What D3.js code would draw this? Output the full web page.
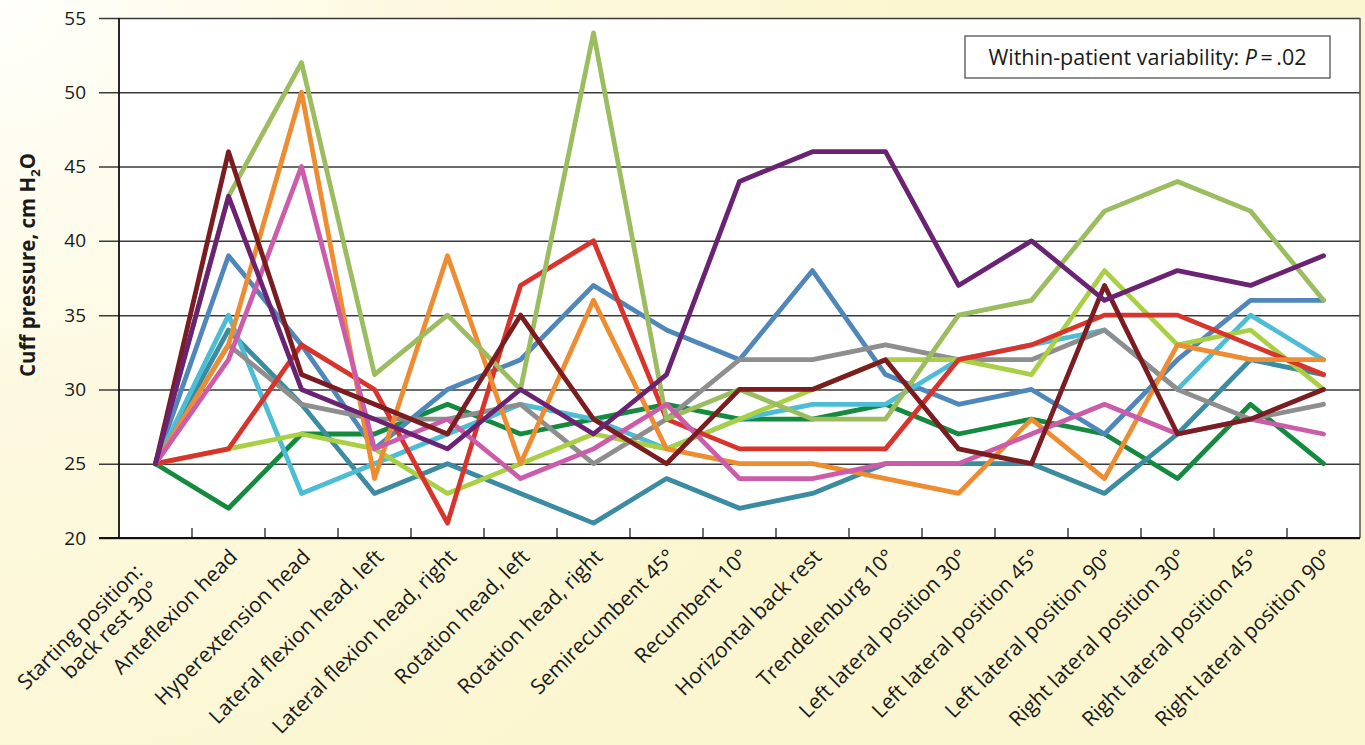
<!DOCTYPE html>
<html>
<head>
<meta charset="utf-8">
<script src="https://cdn.jsdelivr.net/npm/d3@7"></script>
<style>
  html, body { margin: 0; padding: 0; }
  body { width: 1365px; height: 745px; overflow: hidden; }
  svg { display: block; }
  text { font-family: "Open Sans", "Noto Sans", sans-serif; fill: #1a1a1a; }
</style>
</head>
<body>
<svg id="chart" width="1365" height="745"></svg>
<script>
const categories = [
  ["Starting position:", "back rest 30°"],
  ["Anteflexion head"],
  ["Hyperextension head"],
  ["Lateral flexion head, left"],
  ["Lateral flexion head, right"],
  ["Rotation head, left"],
  ["Rotation head, right"],
  ["Semirecumbent 45°"],
  ["Recumbent 10°"],
  ["Horizontal back rest"],
  ["Trendelenburg 10°"],
  ["Left lateral position 30°"],
  ["Left lateral position 45°"],
  ["Left lateral position 90°"],
  ["Right lateral position 30°"],
  ["Right lateral position 45°"],
  ["Right lateral position 90°"]
];
const yTicks = [20, 25, 30, 35, 40, 45, 50, 55];

const darkGreen = [25,22,27,27,29,27,28,29,28,28,29,27,28,27,24,29,25];
const teal      = [25,34,29,23,25,23,21,24,22,23,25,25,25,23,27,32,31];
const steelBlue = [25,39,33,26,30,32,37,34,32,38,31,29,30,27,32,36,36];
const cyan      = [25,35,23,25,27,29,28,26,28,29,29,32,33,34,30,35,32];
const gray      = [25,33,29,28,28,29,25,28,32,32,33,32,32,34,30,28,29];
const lime      = [25,26,27,26,23,25,27,26,28,30,32,32,31,38,33,34,30];
const red       = [25,26,33,30,21,37,40,28,26,26,26,32,33,35,35,33,31];
const orange    = [25,33,50,24,39,25,36,26,25,25,24,23,28,24,33,32,32];
const sage      = [25,43,52,31,35,30,54,28,30,28,28,35,36,42,44,42,36];
const pink      = [25,32,45,26,28,24,26,29,24,24,25,25,27,29,27,28,27];
const maroon    = [25,46,31,29,27,35,28,25,30,30,32,26,25,37,27,28,30];
const purple    = [25,43,30,28,26,30,27,31,44,46,46,37,40,36,38,37,39];

const series = [
  {values: darkGreen, color: "#138a3e"},
  {values: teal,      color: "#3b8ca0"},
  {values: steelBlue, color: "#5087bb"},
  {values: cyan,      color: "#4dbdd6"},
  {values: gray,      color: "#8e8e8e"},
  {values: lime,      color: "#a9d044"},
  {values: red,       color: "#d8342c"},
  {values: orange,    color: "#ee8c32"},
  {values: sage,      color: "#9cbd5f"},
  {values: pink,      color: "#cb5ca9"},
  {values: maroon,    color: "#7a1c20"},
  {values: purple,    color: "#6a2373"}
];

const W = 1365, H = 745;
const m = {left: 119, right: 1360, top: 18, bottom: 538};
const svg = d3.select("#chart");

// background
const defs = svg.append("defs");
const grad = defs.append("radialGradient").attr("id", "bg")
  .attr("gradientUnits", "userSpaceOnUse")
  .attr("cx", 0).attr("cy", 0).attr("r", 900);
grad.append("stop").attr("offset", "0%").attr("stop-color", "#fffffb");
grad.append("stop").attr("offset", "45%").attr("stop-color", "#fdf9e0");
grad.append("stop").attr("offset", "100%").attr("stop-color", "#fbf6cf");
svg.append("rect").attr("width", W).attr("height", H).attr("fill", "url(#bg)");

const x = d3.scaleBand().domain(d3.range(categories.length)).range([m.left, m.right]).padding(0);
const y = d3.scaleLinear().domain([20, 55]).range([m.bottom, m.top]);

// plot area
svg.append("rect").attr("x", m.left).attr("y", m.top)
  .attr("width", m.right - m.left).attr("height", m.bottom - m.top).attr("fill", "#ffffff");

// gridlines + y axis
const yg = svg.append("g").attr("transform", `translate(${m.right},0)`).call(
  d3.axisLeft(y).tickValues(yTicks).tickSize(m.right - 99).tickFormat(d3.format("d")).tickPadding(13)
);
yg.select(".domain").remove();
yg.selectAll(".tick line").attr("stroke", "#3a3a3a").attr("stroke-width", 1.5);
yg.selectAll(".tick text").attr("font-size", 19).attr("fill", "#1a1a1a")
  .style("font-family", '"Open Sans", sans-serif');

// right border
svg.append("line").attr("x1", m.right).attr("x2", m.right).attr("y1", m.top).attr("y2", m.bottom)
  .attr("stroke", "#555").attr("stroke-width", 1.5);

// x axis ticks at band boundaries
const xg = svg.append("g").attr("transform", `translate(0,${m.bottom})`);
xg.selectAll("line.t").data(d3.range(1, categories.length)).join("line")
  .attr("x1", d => x(d)).attr("x2", d => x(d)).attr("y1", 0).attr("y2", -10)
  .attr("stroke", "#222").attr("stroke-width", 1.3);
svg.append("line").attr("x1", 99).attr("x2", m.right).attr("y1", m.bottom).attr("y2", m.bottom)
  .attr("stroke", "#111").attr("stroke-width", 1.8);
svg.append("line").attr("x1", m.left).attr("x2", m.left).attr("y1", m.top).attr("y2", m.bottom)
  .attr("stroke", "#111").attr("stroke-width", 1.8);

// x labels
const lab = svg.append("g").selectAll("text").data(categories).join("text")
  .attr("transform", (d, i) => `translate(${x(i) + x.bandwidth() / 2 + 5},${m.bottom + 15}) rotate(-45)`)
  .attr("text-anchor", "end").attr("font-size", 21);
lab.each(function(d) {
  const t = d3.select(this);
  d.forEach((line, k) => {
    t.append("tspan").attr("x", d.length > 1 ? -26 : 0)
      .attr("dy", k === 0 ? (d.length > 1 ? "0.12em" : "0.35em") : "1.12em").text(line);
  });
});

// lines
const line = d3.line().x((d, i) => x(i) + x.bandwidth() / 2).y(d => y(d));
svg.append("g").selectAll("path").data(series).join("path")
  .attr("d", d => line(d.values))
  .attr("fill", "none").attr("stroke", d => d.color).attr("stroke-width", 4.8)
  .attr("stroke-linejoin", "round").attr("stroke-linecap", "round");

// y title
const yt = svg.append("text").attr("transform", `translate(35,265) rotate(-90)`)
  .attr("text-anchor", "middle").attr("font-size", 20.5).attr("font-weight", "bold");
yt.append("tspan").text("Cuff pressure, cm H");
yt.append("tspan").attr("font-size", 13).attr("dy", 5).text("2");
yt.append("tspan").attr("dy", -5).text("O");

// annotation box
svg.append("rect").attr("x", 965).attr("y", 36).attr("width", 365).attr("height", 42)
  .attr("fill", "#fff").attr("stroke", "#444").attr("stroke-width", 1.2);
const an = svg.append("text").attr("x", 1147.5).attr("y", 64.5).attr("text-anchor", "middle").attr("font-size", 21.5);
an.append("tspan").text("Within-patient variability: ");
an.append("tspan").attr("font-style", "italic").text("P");
an.append("tspan").text("\u2009=\u2009.02");
</script>
</body>
</html>
